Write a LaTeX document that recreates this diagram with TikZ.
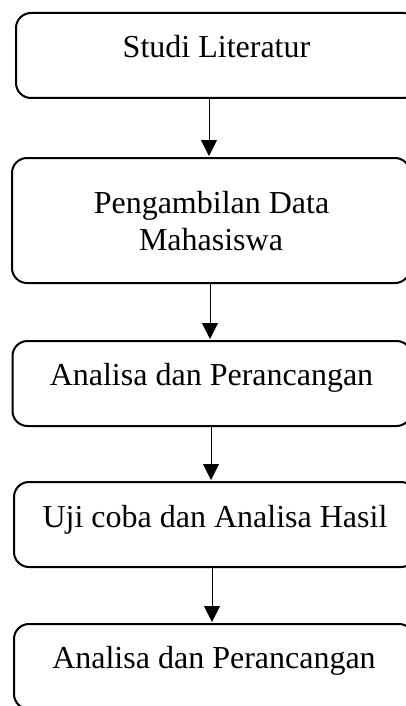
\documentclass[tikz,border=0pt]{standalone}
\usepackage{fontspec}
\setmainfont{Liberation Serif}
\usetikzlibrary{arrows.meta}
\begin{document}
\begin{tikzpicture}[x=1pt,y=-1pt,
  box/.style={draw=black,line width=2pt,rounded corners=15pt,inner sep=0pt,outer sep=0pt},
  lbl/.style={font=\fontsize{32}{37}\selectfont,inner sep=0pt,anchor=base,align=center},
  arr/.style={draw=black,line width=1pt,-{Triangle[length=16pt,width=16pt]},shorten >=2pt}]
\useasboundingbox (0,0) rectangle (406,706);
\clip (0,0) rectangle (406,706);
\node[box,minimum width=402pt,minimum height=85pt] (b1) at (217,55.5) {};
\node[box,minimum width=398pt,minimum height=125pt] (b2) at (211,220.5) {};
\node[box,minimum width=399pt,minimum height=85pt] (b3) at (212,383.5) {};
\node[box,minimum width=402pt,minimum height=85pt] (b4) at (215,524.5) {};
\node[box,minimum width=400pt,minimum height=85pt] (b5) at (214,666.5) {};
\node[lbl] (t1) at (216.5,58) {Studi Literatur};
\node[lbl] (t2a) at (211.5,213) {Pengambilan Data};
\node[lbl] (t2b) at (211,250) {Mahasiswa};
\node[lbl] (t3) at (211.5,385) {Analisa dan Perancangan};
\node[lbl] (t4) at (215,527) {Uji coba dan Analisa Hasil};
\node[lbl] (t5) at (214,668) {Analisa dan Perancangan};
\coordinate (x1) at (209,0);
\coordinate (x2) at (210,0);
\coordinate (x3) at (211,0);
\coordinate (x4) at (212,0);
\draw[arr] (b1.south -| x1) -- (b2.north -| x1);
\draw[arr] (b2.south -| x2) -- (b3.north -| x2);
\draw[arr] (b3.south -| x3) -- (b4.north -| x3);
\draw[arr] (b4.south -| x4) -- (b5.north -| x4);
\end{tikzpicture}
\end{document}
